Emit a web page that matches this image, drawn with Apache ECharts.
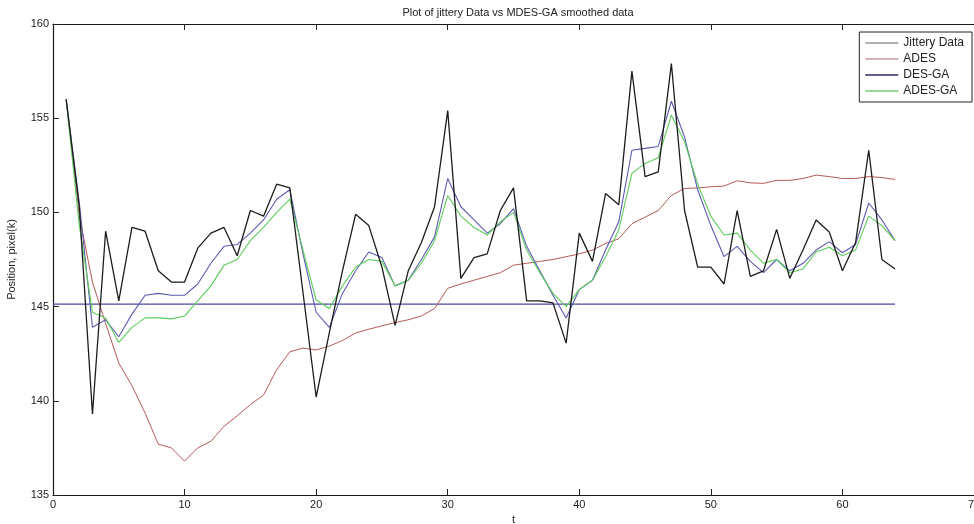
<!DOCTYPE html>
<html>
<head>
<meta charset="utf-8">
<script src="https://cdn.jsdelivr.net/npm/echarts@6/dist/echarts.min.js"></script>
<style>
html,body{margin:0;padding:0;background:#fff;}
#chart{width:974px;height:524px;}
</style>
</head>
<body>
<div id="chart"></div>
<script>
const t = [1,2,3,4,5,6,7,8,9,10,11,12,13,14,15,16,17,18,19,20,21,22,23,24,25,26,27,28,29,30,31,32,33,34,35,36,37,38,39,40,41,42,43,44,45,46,47,48,49,50,51,52,53,54,55,56,57,58,59,60,61,62,63,64];
const jittery = [156,150.3,139.3,149.0,145.3,149.2,149.0,146.9,146.3,146.3,148.1,148.9,149.2,147.7,150.1,149.8,151.5,151.3,145.75,140.2,143.6,146.9,149.9,149.3,147.1,144.0,146.9,148.4,150.3,155.4,146.5,147.6,147.8,150.1,151.3,145.3,145.3,145.2,143.06,148.9,147.4,151.0,150.4,157.5,151.9,152.15,157.9,150.1,147.1,147.1,146.2,150.1,146.6,146.9,149.1,146.5,148.0,149.6,148.96,146.9,148.4,153.3,147.5,147.0];
const ades = [156,149.8,146.3,144.1,142.0,140.8,139.35,137.7,137.5,136.8,137.5,137.85,138.65,139.2,139.8,140.3,141.65,142.6,142.8,142.7,142.9,143.2,143.6,143.8,143.98,144.15,144.3,144.5,144.9,145.97,146.2,146.4,146.6,146.8,147.2,147.3,147.4,147.5,147.65,147.8,148.0,148.35,148.6,149.4,149.75,150.1,150.9,151.27,151.3,151.36,151.4,151.68,151.57,151.54,151.7,151.7,151.8,151.98,151.9,151.8,151.8,151.9,151.85,151.75];
const desGA = [156,150.5,143.9,144.3,143.4,144.6,145.6,145.7,145.6,145.6,146.2,147.3,148.2,148.3,148.9,149.6,150.7,151.2,147.8,144.7,143.9,145.7,146.9,147.9,147.6,146.1,146.4,147.5,148.7,151.8,150.3,149.6,148.9,149.4,150.2,148.2,146.9,145.6,144.4,145.9,146.4,148.0,149.5,153.3,153.4,153.5,155.9,154.0,151.2,149.3,147.65,148.2,147.4,146.8,147.5,146.9,147.3,148.0,148.45,147.86,148.3,150.5,149.6,148.5];
const adesGA = [156,149.3,144.7,144.4,143.1,143.9,144.4,144.4,144.35,144.5,145.3,146.1,147.2,147.5,148.5,149.2,150.0,150.7,148.0,145.35,144.9,146.1,147.1,147.5,147.4,146.1,146.4,147.3,148.5,150.9,149.8,149.2,148.8,149.5,150.0,148.0,146.8,145.7,145.0,145.9,146.4,147.65,149.07,152.07,152.6,152.9,155.16,153.75,151.5,149.8,148.8,148.9,148.0,147.3,147.5,146.8,147.0,147.9,148.15,147.7,148.0,149.8,149.3,148.5];
const refX = [0,64];
const refY = [145.13,145.13];
const xTicks = [0,10,20,30,40,50,60,70];
const yTicks = [135,140,145,150,155,160];

const pair = (xs, ys) => xs.map((x, i) => [x, ys[i]]);
const FONT = "'Liberation Sans Narrow','Liberation Sans',Arial,sans-serif";

const chart = echarts.init(document.getElementById('chart'), null, {renderer:'canvas'});
const axisLine = {show:true, lineStyle:{color:'#1a1a1a', width:1.2}};
chart.setOption({
  animation:false,
  backgroundColor:'#fff',
  title:{text:'Plot of jittery Data vs MDES-GA smoothed data', left:513, textAlign:'center', top:2,
    textStyle:{fontFamily:FONT, fontSize:11, fontWeight:'normal', color:'#222'}},
  grid:{left:53, right:0, top:24, bottom:29, containLabel:false, outerBoundsMode:'none'},
  legend:{
    orient:'vertical', right:2, top:32, width:110,
    backgroundColor:'#fff', borderColor:'#222', borderWidth:1, borderRadius:0,
    padding:[4,8,4,6], itemGap:2, itemWidth:33, itemHeight:1.5, icon:'rect',
    textStyle:{fontFamily:FONT, fontSize:12, color:'#222', lineHeight:14},
    data:['Jittery Data','ADES','DES-GA','ADES-GA']
  },
  xAxis:[{
    type:'value', min:xTicks[0], max:xTicks[xTicks.length-1], interval:10,
    name:'t', nameLocation:'middle', nameGap:19,
    nameTextStyle:{fontFamily:FONT, fontSize:11, color:'#222'},
    axisLine:axisLine, axisTick:{inside:true, length:6, lineStyle:{color:'#222'}},
    axisLabel:{fontFamily:FONT, fontSize:11, color:'#222', margin:4},
    splitLine:{show:false}
  },{
    type:'value', position:'top', min:0, max:70, interval:10,
    axisLine:axisLine, axisTick:{inside:true, length:6, lineStyle:{color:'#222'}},
    axisLabel:{show:false}, splitLine:{show:false}
  }],
  yAxis:[{
    type:'value', min:yTicks[0], max:yTicks[yTicks.length-1], interval:5,
    name:'Position, pixel(k)', nameLocation:'middle', nameGap:36, nameRotate:90,
    nameTextStyle:{fontFamily:FONT, fontSize:11, color:'#222'},
    axisLine:axisLine, axisTick:{inside:true, length:6, lineStyle:{color:'#222'}},
    axisLabel:{fontFamily:FONT, fontSize:11, color:'#222', margin:4},
    splitLine:{show:false}
  }],
  series:[
    {name:'Jittery Data', type:'line', data:pair(t, jittery), symbol:'none', z:5,
      lineStyle:{color:'#1c1c1c', width:1.3}, itemStyle:{color:'#999'}},
    {name:'ADES', type:'line', data:pair(t, ades), symbol:'none', z:3,
      lineStyle:{color:'#b55a55', width:1}, itemStyle:{color:'#c99a98'}},
    {name:'DES-GA', type:'line', data:pair(t, desGA), symbol:'none', z:4,
      lineStyle:{color:'#5a5ab0', width:1.1}, itemStyle:{color:'#2a2a60'}},
    {name:'ADES-GA', type:'line', data:pair(t, adesGA), symbol:'none', z:4,
      lineStyle:{color:'#5ccc5c', width:1.1}, itemStyle:{color:'#70cc70'}},
    {name:'ref', type:'line', data:pair(refX, refY), symbol:'none', z:2,
      lineStyle:{color:'#4a4aa0', width:1.2}}
  ]
});
</script>
</body>
</html>
